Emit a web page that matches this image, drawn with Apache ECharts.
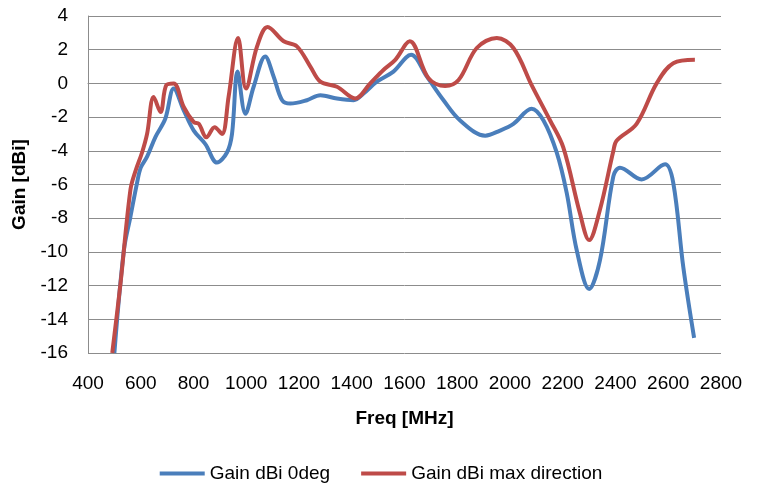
<!DOCTYPE html>
<html>
<head>
<meta charset="utf-8">
<script src="https://cdn.jsdelivr.net/npm/echarts@6/dist/echarts.min.js"></script>
<style>
  html, body { margin: 0; padding: 0; background: #fff; }
  #chart { width: 762px; height: 486px; }
</style>
</head>
<body>
<div id="chart"></div>
<script>
// Gain dBi 0deg
var freq0deg = [500, 536, 561, 586, 600, 624, 656, 693, 725, 763, 801, 845, 889, 927, 946, 967, 997, 1028, 1072, 1104,
  1136, 1167, 1230, 1281, 1344, 1407, 1445, 1495, 1558, 1625, 1685, 1748, 1811, 1906, 1962, 2013, 2082, 2127, 2177, 2215,
  2253, 2300, 2341, 2392, 2417, 2499, 2588, 2619, 2657, 2698];
var gain0deg = [-16, -9.9, -7.9, -5.9, -5.0, -4.35, -3.17, -2.1, -0.3, -1.6, -2.8, -3.6, -4.7, -4.1, -3.0, 0.7, -1.8, -0.2, 1.6, 0.4,
  -1.0, -1.2, -1.0, -0.7, -0.9, -1.0, -0.6, 0.1, 0.7, 1.7, 0.4, -1.0, -2.2, -3.1, -2.8, -2.4, -1.5, -2.2, -4.1, -6.5,
  -9.9, -12.2, -10.5, -5.5, -5.0, -5.7, -4.8, -5.9, -10.9, -15.1];

// Gain dBi max direction
var freqMax = [492, 523, 561, 580, 605, 624, 649, 675, 697, 725, 763, 801, 820, 849, 880, 908, 933, 969, 999, 1041,
  1081, 1142, 1192, 1243, 1281, 1344, 1413, 1470, 1520, 1565, 1620, 1691, 1754, 1805, 1874, 1950, 2013, 2082, 2152, 2202,
  2265, 2300, 2341, 2392, 2404, 2480, 2556, 2619, 2701];
var gainMax = [-16, -11.9, -6.3, -5.2, -4.1, -3.0, -0.8, -1.7, -0.1, 0.0, -1.4, -2.3, -2.4, -3.2, -2.6, -3.0, -0.8, 2.7, -0.3, 2.2,
  3.35, 2.5, 2.2, 1.0, 0.1, -0.2, -0.9, 0.0, 0.8, 1.4, 2.5, 0.3, -0.15, 0.2, 2.1, 2.7, 2.1, -0.1, -2.2, -3.8,
  -7.7, -9.3, -7.5, -4.0, -3.4, -2.4, 0.0, 1.2, 1.4];

var seriesNames = ['Gain dBi 0deg', 'Gain dBi max direction'];

function pairs(xs, ys) {
  return xs.map(function (x, i) { return [x, ys[i]]; });
}

var font = "'Liberation Sans', Arial, sans-serif";
var chart = echarts.init(document.getElementById('chart'));

var options = {
  animation: false,
  textStyle: { fontFamily: font },
  grid: { left: 88, top: 16, right: 41, bottom: 133 },
  legend: {
    data: seriesNames,
    bottom: -2,
    left: 'center',
    icon: 'rect',
    itemWidth: 45,
    itemHeight: 4,
    itemGap: 31,
    textStyle: { fontFamily: font, fontSize: 19, color: '#000' }
  },
  xAxis: {
    type: 'value',
    min: 400,
    max: 2800,
    interval: 200,
    name: 'Freq [MHz]',
    nameLocation: 'middle',
    nameGap: 56,
    nameTextStyle: { fontFamily: font, fontSize: 19, fontWeight: 'bold', color: '#000' },
    axisLine: { lineStyle: { color: '#8c8c8c', width: 1 } },
    axisTick: { show: false },
    splitLine: { show: false },
    axisLabel: {
      fontFamily: font, fontSize: 19, color: '#000', margin: 21,
      formatter: function (v) { return String(v); }
    }
  },
  yAxis: {
    type: 'value',
    min: -16,
    max: 4,
    interval: 2,
    name: 'Gain [dBi]',
    nameLocation: 'middle',
    nameGap: 52,
    nameTextStyle: { fontFamily: font, fontSize: 19, fontWeight: 'bold', color: '#000' },
    axisLine: { show: true, lineStyle: { color: '#8c8c8c', width: 1 } },
    axisTick: { show: false },
    splitLine: { lineStyle: { color: '#8c8c8c', width: 1 } },
    axisLabel: { fontFamily: font, fontSize: 19, color: '#000', margin: 20 }
  },
  series: [
    {
      name: seriesNames[0],
      type: 'line',
      smooth: 0.35,
      symbol: 'none',
      lineStyle: { color: '#4A7EBB', width: 4 },
      itemStyle: { color: '#4A7EBB' },
      data: pairs(freq0deg, gain0deg)
    },
    {
      name: seriesNames[1],
      type: 'line',
      smooth: 0.35,
      symbol: 'none',
      lineStyle: { color: '#BE4B48', width: 4 },
      itemStyle: { color: '#BE4B48' },
      data: pairs(freqMax, gainMax)
    }
  ]
};

chart.setOption(options);
</script>
</body>
</html>
